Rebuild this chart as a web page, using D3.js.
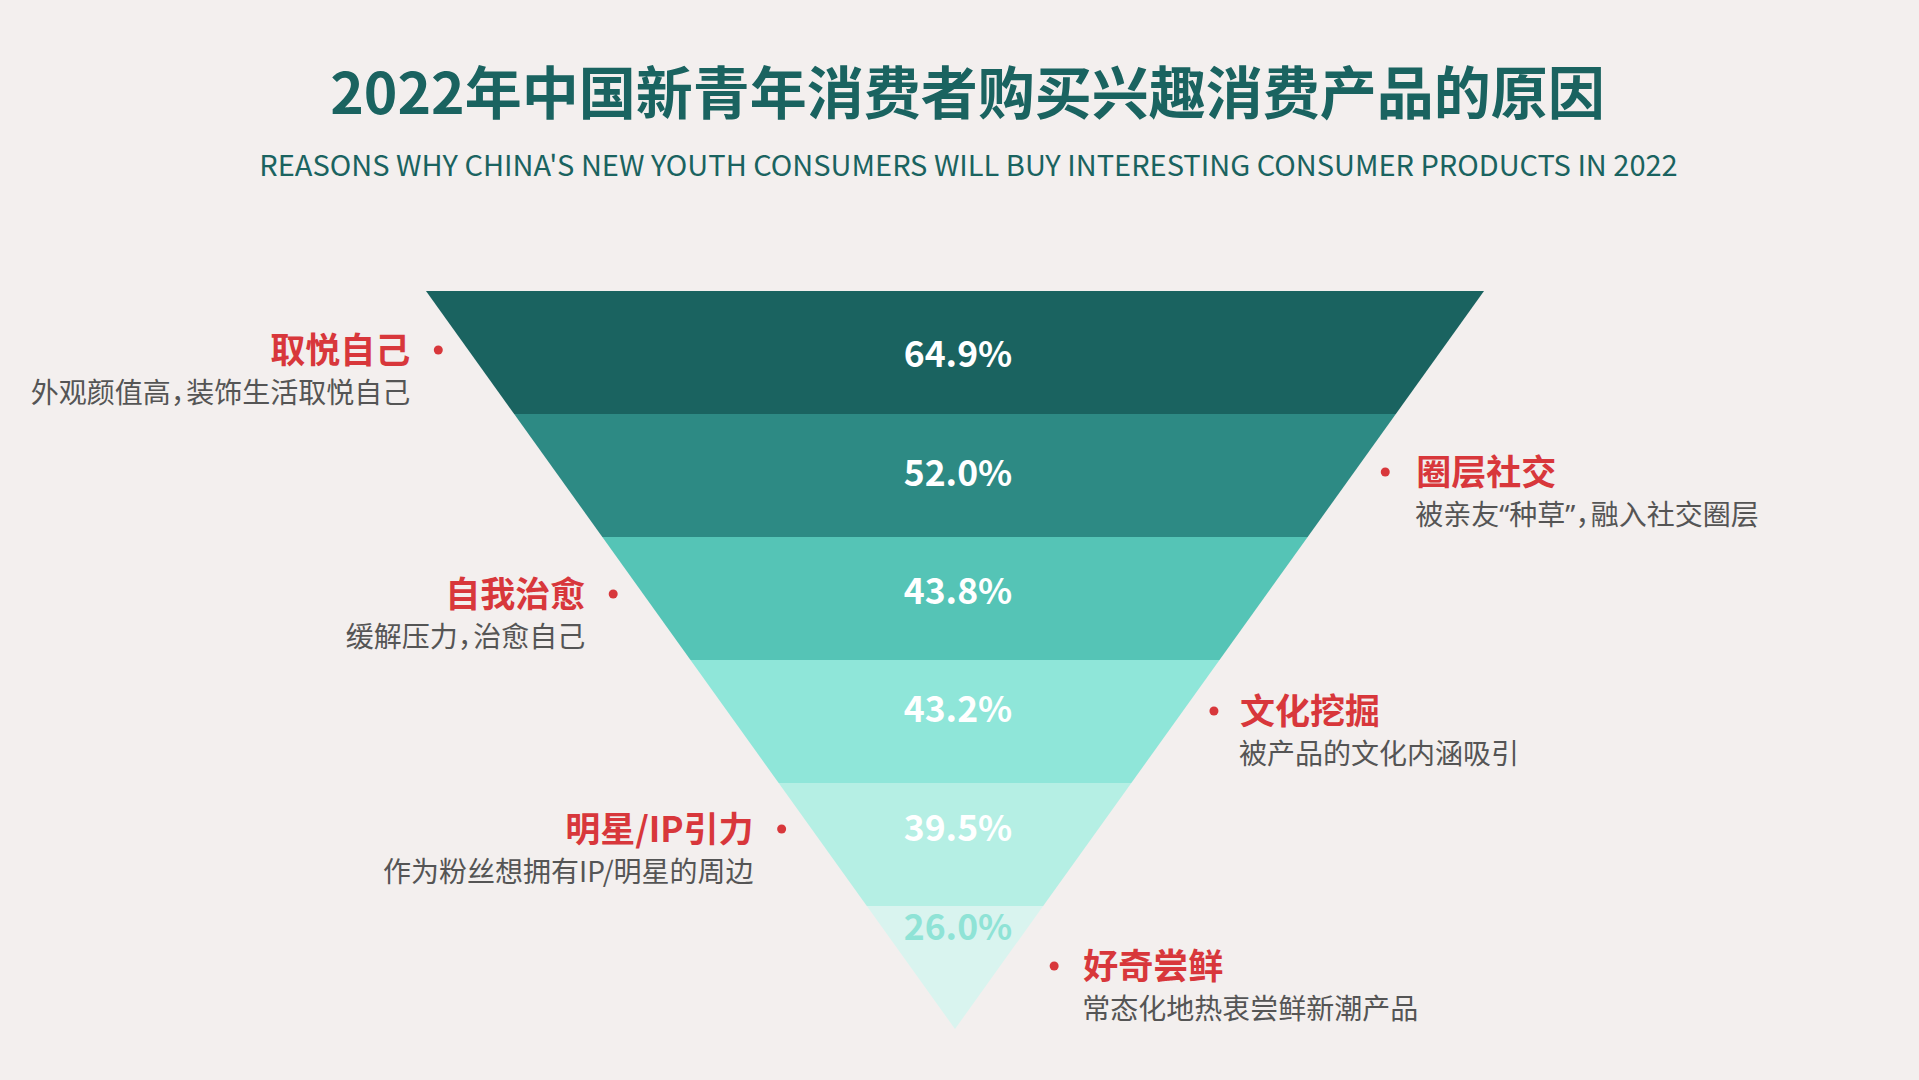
<!DOCTYPE html>
<html>
<head>
<meta charset="utf-8">
<script src="https://cdn.jsdelivr.net/npm/d3@7"></script>
<style>
  html, body { margin: 0; padding: 0; background: #f3efee; }
  svg text { font-family: "Noto Sans CJK SC", "Noto Sans", sans-serif; }
</style>
</head>
<body>
<script>
// values
var reasons = ["取悦自己", "圈层社交", "自我治愈", "文化挖掘", "明星/IP引力", "好奇尝鲜"];
var details = ["外观颜值高，装饰生活取悦自己", "被亲友“种草”，融入社交圈层", "缓解压力，治愈自己",
               "被产品的文化内涵吸引", "作为粉丝想拥有IP/明星的周边", "常态化地热衷尝鲜新潮产品"];
var shares = [64.9, 52.0, 43.8, 43.2, 39.5, 26.0];
var sides = ["left", "right", "left", "right", "left", "right"];

var band_colors = ["#1a6360", "#2d8a84", "#55c4b6", "#8fe6d9", "#b5efe4", "#d9f4ef"];
var value_colors = ["#ffffff", "#ffffff", "#ffffff", "#ffffff", "#ffffff", "#8fe3d6"];

// label layout (centre of the red heading / value, gap from funnel edge to the dot, dot to text)
var label_y = [350, 472, 594, 711, 829, 966];
var value_y = [355, 474, 592, 710, 829, 928];
var dot_gap = [30, 31, 30, 31, 30, 54];
var text_gap = [28, 31, 28, 26, 28, 29];

var width = 1919, height = 1080;
var funnel = {top: 291, bottom: 1029, cx: 955, halfWidth: 529};
var red = "#d8373b", grey = "#555555", teal = "#1a6360";

var svg = d3.select("body").append("svg")
            .attr("width", width).attr("height", height);

svg.append("rect").attr("width", width).attr("height", height).attr("fill", "#f3efee");

// Titles
svg.append("text")
   .attr("x", width / 2 + 8).attr("y", 114)
   .attr("text-anchor", "middle")
   .attr("font-size", 57).attr("font-weight", 700)
   .attr("fill", teal)
   .text("2022年中国新青年消费者购买兴趣消费产品的原因");

svg.append("text")
   .attr("x", width / 2 + 9).attr("y", 176)
   .attr("text-anchor", "middle")
   .attr("font-size", 29)
   .attr("fill", teal)
   .text("REASONS WHY CHINA'S NEW YOUTH CONSUMERS WILL BUY INTERESTING CONSUMER PRODUCTS IN 2022");

// Scales: band index -> y, y -> half width of the funnel
var y = d3.scaleLinear().domain([0, shares.length]).range([funnel.top, funnel.bottom]);
var half = d3.scaleLinear().domain([funnel.top, funnel.bottom]).range([funnel.halfWidth, 0]);

var bands = svg.append("g").attr("class", "funnel");

bands.selectAll("path.band").data(shares)
     .enter().append("path")
     .attr("class", "band")
     .attr("fill", function(d, i) { return band_colors[i]; })
     .attr("d", function(d, i)
     {
       var y0 = y(i), y1 = y(i + 1);
       var w0 = half(y0), w1 = half(y1);
       var c = funnel.cx;
       return "M" + (c - w0) + "," + y0 + "L" + (c + w0) + "," + y0 +
              "L" + (c + w1) + "," + y1 + "L" + (c - w1) + "," + y1 + "Z";
     });

bands.selectAll("text.value").data(shares)
     .enter().append("text")
     .attr("class", "value")
     .attr("x", funnel.cx + 3)
     .attr("y", function(d, i) { return value_y[i] + 12; })
     .attr("text-anchor", "middle")
     .attr("font-size", 35.5).attr("font-weight", 700)
     .attr("fill", function(d, i) { return value_colors[i]; })
     .text(function(d) { return d.toFixed(1) + "%"; });

// Side labels
var labels = svg.append("g").attr("class", "labels");

var label = labels.selectAll("g.label").data(reasons)
     .enter().append("g")
     .attr("class", "label");

function dotX(i)
{
  var w = half(label_y[i]);
  return sides[i] === "left" ? funnel.cx - w - dot_gap[i] : funnel.cx + w + dot_gap[i];
}

function textX(i)
{
  return sides[i] === "left" ? dotX(i) - text_gap[i] : dotX(i) + text_gap[i];
}

label.append("circle")
     .attr("cx", function(d, i) { return dotX(i); })
     .attr("cy", function(d, i) { return label_y[i]; })
     .attr("r", 4.5)
     .attr("fill", red);

label.append("text")
     .attr("x", function(d, i) { return textX(i); })
     .attr("y", function(d, i) { return label_y[i] + 13; })
     .attr("text-anchor", function(d, i) { return sides[i] === "left" ? "end" : "start"; })
     .attr("font-size", 35).attr("font-weight", 700)
     .attr("fill", red)
     .text(function(d) { return d; });

var detail = label.append("text")
     .attr("x", function(d, i) { return sides[i] === "left" ? textX(i) : textX(i) - 1; })
     .attr("y", function(d, i) { return label_y[i] + 53; })
     .attr("text-anchor", function(d, i) { return sides[i] === "left" ? "end" : "start"; })
     .attr("font-size", 28)
     .attr("fill", grey);

// quotes in a latin face, full-width comma tightened, like the reference
detail.selectAll("tspan")
      .data(function(d, i) { return details[i].match(/[“”]|，|[^“”，]+/g); })
      .enter().append("tspan")
      .style("font-family", function(s) { return (s === "“" || s === "”") ? "'Noto Sans'" : null; })
      .style("letter-spacing", function(s) { return s === "，" ? "-0.45em" : null; })
      .text(function(s) { return s; });
</script>
</body>
</html>
